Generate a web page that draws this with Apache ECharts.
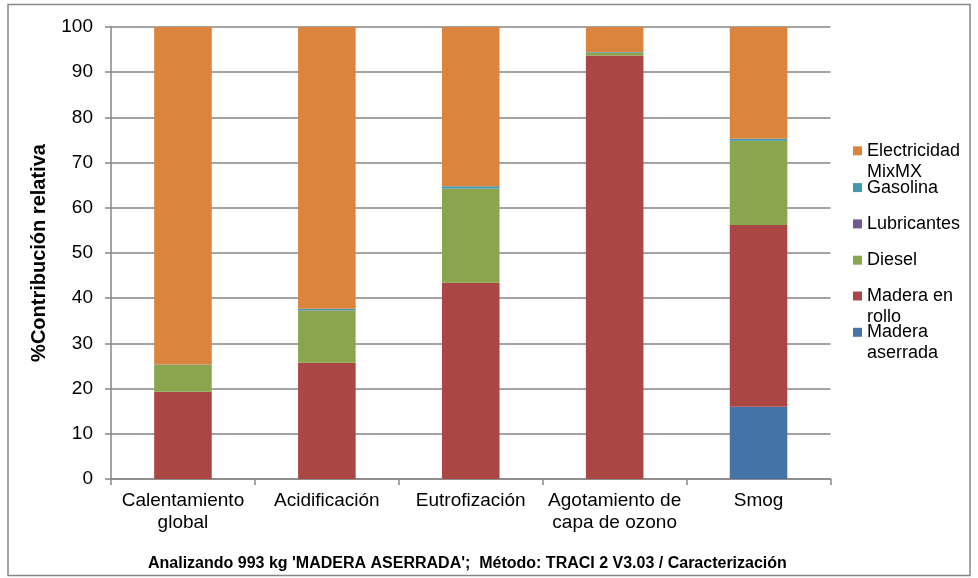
<!DOCTYPE html>
<html>
<head>
<meta charset="utf-8">
<script src="https://cdn.jsdelivr.net/npm/echarts@6/dist/echarts.min.js"></script>
<style>
html, body { margin: 0; padding: 0; background: #fff; }
#chart { width: 978px; height: 578px; }
</style>
</head>
<body>
<div id="chart"></div>
<script>
var categories = ['Calentamiento\nglobal', 'Acidificación', 'Eutrofización', 'Agotamiento de\ncapa de ozono', 'Smog'];

// stacked bottom to top, % of total
var maderaAserrada = [0, 0, 0, 0, 16.0];
var maderaRollo = [19.3, 25.7, 43.4, 93.7, 40.2];
var diesel = [5.9, 11.6, 20.8, 0.6, 18.6];
var lubricantes = [0.05, 0.05, 0.05, 0.05, 0.05];
var gasolina = [0.1, 0.3, 0.5, 0.1, 0.4];
var electricidad = [74.65, 62.35, 35.25, 5.55, 24.75];

var yTicks = [0, 10, 20, 30, 40, 50, 60, 70, 80, 90, 100];

var seriesNames = ['Madera aserrada', 'Madera en rollo', 'Diesel', 'Lubricantes', 'Gasolina', 'Electricidad MixMX'];
var seriesData = [maderaAserrada, maderaRollo, diesel, lubricantes, gasolina, electricidad];
var seriesColors = ['#4572A7', '#AA4643', '#89A54E', '#71588F', '#4198AF', '#DB843D'];

// legend reads top to bottom, long names wrap onto a second line
var legendOrder = ['Electricidad MixMX', 'Gasolina', 'Lubricantes', 'Diesel', 'Madera en rollo', 'Madera aserrada'];
var legendText = {
    'Electricidad MixMX': 'Electricidad\nMixMX',
    'Madera en rollo': 'Madera en\nrollo',
    'Madera aserrada': 'Madera\naserrada'
};

var FONT = '"Liberation Sans", Arial, sans-serif';

var legends = [];
for (var i = 0; i < legendOrder.length; i++) {
    var name = legendOrder[i];
    var center = 151.3 + 36.3 * i;
    var twoLines = !!legendText[name];
    legends.push({
        data: [name],
        left: 853,
        // wrapped names get an empty first line so the first real line sits on the marker
        top: twoLines ? center - 32 : center - 10.5,
        padding: 0,
        icon: 'rect',
        itemWidth: 9,
        itemHeight: 9,
        selectedMode: false,
        formatter: function (n) { return legendText[n] ? '\n' + legendText[n] : n; },
        textStyle: {
            fontFamily: FONT,
            fontSize: 18,
            color: '#000',
            lineHeight: 21
        }
    });
}

var series = [];
for (var k = 0; k < seriesNames.length; k++) {
    series.push({
        name: seriesNames[k],
        type: 'bar',
        stack: 'total',
        barWidth: '40%',
        itemStyle: { color: seriesColors[k] },
        data: seriesData[k]
    });
}

var option = {
    backgroundColor: '#fff',
    animation: false,
    grid: {
        left: 111,
        right: 147.5,
        top: 27,
        bottom: 99
    },
    legend: legends,
    xAxis: {
        type: 'category',
        data: categories,
        axisLine: { lineStyle: { color: '#868686', width: 1.5 } },
        axisTick: { show: true, length: 6, lineStyle: { color: '#868686', width: 1.5 } },
        axisLabel: {
            fontFamily: FONT,
            fontSize: 19,
            color: '#000',
            lineHeight: 22,
            margin: 11,
            interval: 0
        }
    },
    yAxis: {
        type: 'value',
        min: yTicks[0],
        max: yTicks[yTicks.length - 1],
        interval: 10,
        name: '%Contribución relativa',
        nameLocation: 'middle',
        nameGap: 62,
        nameTextStyle: {
            fontFamily: FONT,
            fontSize: 20,
            fontWeight: 'bold',
            color: '#000'
        },
        axisLine: { show: true, lineStyle: { color: '#868686', width: 1.5 } },
        axisTick: { show: true, length: 6, lineStyle: { color: '#868686', width: 1.5 } },
        axisLabel: {
            fontFamily: FONT,
            fontSize: 19,
            color: '#000',
            margin: 18
        },
        splitLine: { lineStyle: { color: '#868686', width: 1.5 } }
    },
    graphic: [
        {
            type: 'rect',
            shape: { x: 8, y: 4.5, width: 962, height: 571 },
            style: { fill: 'none', stroke: '#868686', lineWidth: 1.5 },
            silent: true
        },
        {
            type: 'text',
            left: 148,
            top: 556,
            style: {
                text: "Analizando 993 kg 'MADERA ASERRADA';  Método: TRACI 2 V3.03 / Caracterización",
                font: 'bold 16px ' + FONT,
                fill: '#000'
            }
        }
    ],
    series: series
};

var chart = echarts.init(document.getElementById('chart'));
chart.setOption(option, true);
</script>
</body>
</html>
